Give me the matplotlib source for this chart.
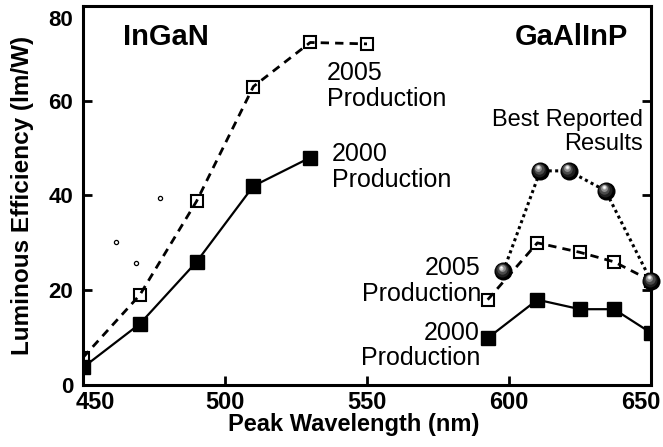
import matplotlib
matplotlib.use("Agg")
import matplotlib.pyplot as plt
import matplotlib.transforms as mtransforms

plt.rcParams['font.family'] = ['Liberation Sans', 'DejaVu Sans']

# InGaN
ingan_x = [450, 470, 490, 510, 530]
ingan_2000 = [3.7, 12.9, 26.0, 42.0, 48.0]
ingan_2005_x = [450, 470, 490, 510, 530, 550]
ingan_2005 = [5.8, 19.0, 38.8, 63.0, 72.3, 72.0]

# GaAlInP
gaal_x = [592.5, 610, 625, 637, 650]
gaal_2000 = [9.9, 18.0, 16.0, 16.0, 11.0]
gaal_2005 = [18.0, 30.0, 28.0, 26.0, 22.0]
best_x = [598, 611, 621, 634, 650]
best_vals = [24.0, 45.2, 45.2, 41.0, 22.0]

# stray specks in the scan
speck_x = [461.6, 468.7, 477.0]
speck_y = [30.2, 25.7, 39.5]

fig = plt.figure(figsize=(6.63, 4.47), dpi=100)
ax = fig.add_axes([0.1252, 0.1387, 0.8567, 0.8479])

ax.plot(ingan_x, ingan_2000, '-', color='black', lw=1.6,
        marker='s', ms=10.5, mfc='black', mec='black', zorder=3)
ax.plot(ingan_2005_x, ingan_2005, color='black', lw=2.0, dashes=(3, 2.2),
        marker='s', ms=9, mfc='none', mec='black', mew=1.5, zorder=3)

ax.plot(gaal_x, gaal_2000, '-', color='black', lw=1.6,
        marker='s', ms=10.5, mfc='black', mec='black', zorder=3)
ax.plot(gaal_x, gaal_2005, color='black', lw=2.0, dashes=(3, 2.2),
        marker='s', ms=9, mfc='none', mec='black', mew=1.5, zorder=3)

ax.plot(best_x, best_vals, color='black', lw=2.2, dashes=(1, 1.1), zorder=4)
# shaded spheres
layers = [(13, '#000000', 0, 0), (10, '#1e1e1e', -0.6, 0.8),
          (7.5, '#4a4a4a', -1.0, 1.6), (5, '#8c8c8c', -1.3, 2.2),
          (3, '#d0d0d0', -1.4, 2.6), (1.5, '#ffffff', -1.4, 2.8)]
for size, col, dx, dy in layers:
    tr = mtransforms.offset_copy(ax.transData, fig=fig, x=dx, y=dy, units='points')
    ax.plot(best_x, best_vals, 'o', ms=size, color=col, mew=0,
            transform=tr, zorder=5, clip_on=False)

ax.plot(speck_x, speck_y, 'o', ms=3, mfc='none', mec='black', mew=0.9, zorder=2)

ax.set_xlim(450, 650)
ax.set_ylim(0, 80)
ax.set_xticks([450, 500, 550, 600, 650])
ax.set_yticks([0, 20, 40, 60, 80])

for s in ax.spines.values():
    s.set_linewidth(2.2)
ax.tick_params(direction='in', length=6.5, width=2.0,
               right=True, top=False)
ax.tick_params(axis='x', labelsize=17, pad=4)
ax.tick_params(axis='y', labelsize=16, pad=7)
for lab in ax.get_xticklabels() + ax.get_yticklabels():
    lab.set_fontweight('bold')

# nudge the end labels inward like the original
xl = ax.get_xticklabels()
xl[0].set_transform(xl[0].get_transform() +
                    mtransforms.ScaledTranslation(12 / 100, 0, fig.dpi_scale_trans))
xl[-1].set_transform(xl[-1].get_transform() +
                     mtransforms.ScaledTranslation(-10 / 100, 0, fig.dpi_scale_trans))
yl = ax.get_yticklabels()
yl[-1].set_transform(yl[-1].get_transform() +
                     mtransforms.ScaledTranslation(0, -12 / 100, fig.dpi_scale_trans))

ax.set_xlabel('Peak Wavelength (nm)', fontsize=17, fontweight='bold')
ax.set_ylabel('Luminous Efficiency (lm/W)', fontsize=17.5, fontweight='bold')
ax.xaxis.set_label_coords(0.476, -0.075)
ax.yaxis.set_label_coords(-0.087, 0.5)

ax.text(464.1, 71.8, 'InGaN', fontsize=21, fontweight='bold', va='baseline')
ax.text(641.9, 71.8, 'GaAlInP', fontsize=21, fontweight='bold', va='baseline', ha='right')

ax.text(535.9, 68.4, '2005\nProduction', fontsize=18, va='top', linespacing=1.1)
ax.text(537.7, 51.2, '2000\nProduction', fontsize=18, va='top', linespacing=1.1)
ax.text(647.2, 58.2, 'Best Reported\nResults', fontsize=17, va='top', ha='right',
        multialignment='right', linespacing=1.1)
ax.text(590.1, 27.2, '2005\nProduction', fontsize=18, va='top', ha='right',
        multialignment='right', linespacing=1.1)
ax.text(589.8, 13.6, '2000\nProduction', fontsize=18, va='top', ha='right',
        multialignment='right', linespacing=1.1)

fig.savefig('out.png', dpi=100)
